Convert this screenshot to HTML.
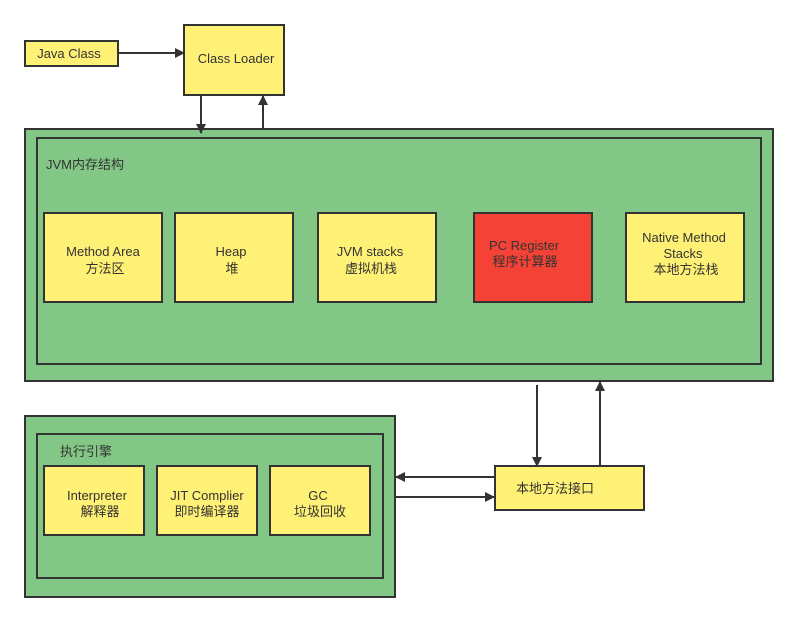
<!DOCTYPE html>
<html><head><meta charset="utf-8"><style>
html,body{margin:0;padding:0;background:#fff}
svg text{font-family:"Liberation Sans","Noto Sans CJK SC",sans-serif;font-size:13px;fill:#333;text-anchor:middle}
</style></head><body>
<svg width="798" height="621" viewBox="0 0 798 621" xmlns="http://www.w3.org/2000/svg">
<defs><marker id="a" markerWidth="10" markerHeight="10" refX="9" refY="5" orient="auto" markerUnits="userSpaceOnUse"><path d="M0,0 L10,5 L0,10 z" fill="#333"/></marker></defs>
<g stroke="#333" stroke-width="2">
<rect x="25" y="41" width="93" height="25" fill="#fff176"/>
<rect x="184" y="25" width="100" height="70" fill="#fff176"/>
<rect x="25" y="129" width="748" height="252" fill="#82c785"/>
<rect x="37" y="138" width="724" height="226" fill="#82c785"/>
<rect x="44" y="213" width="118" height="89" fill="#fff176"/>
<rect x="175" y="213" width="118" height="89" fill="#fff176"/>
<rect x="318" y="213" width="118" height="89" fill="#fff176"/>
<rect x="474" y="213" width="118" height="89" fill="#f44336"/>
<rect x="626" y="213" width="118" height="89" fill="#fff176"/>
<rect x="25" y="416" width="370" height="181" fill="#82c785"/>
<rect x="37" y="434" width="346" height="144" fill="#82c785"/>
<rect x="44" y="466" width="100" height="69" fill="#fff176"/>
<rect x="157" y="466" width="100" height="69" fill="#fff176"/>
<rect x="270" y="466" width="100" height="69" fill="#fff176"/>
<rect x="495" y="466" width="149" height="44" fill="#fff176"/>
<line x1="118" y1="53" x2="184" y2="53" marker-end="url(#a)"/>
<line x1="201" y1="95" x2="201" y2="133" marker-end="url(#a)"/>
<line x1="263" y1="129" x2="263" y2="96" marker-end="url(#a)"/>
<line x1="537" y1="385" x2="537" y2="466" marker-end="url(#a)"/>
<line x1="600" y1="466" x2="600" y2="382" marker-end="url(#a)"/>
<line x1="495" y1="477" x2="396" y2="477" marker-end="url(#a)"/>
<line x1="395" y1="497" x2="494" y2="497" marker-end="url(#a)"/>
</g>
<text x="69" y="58">Java Class</text>
<text x="236" y="63">Class Loader</text>
<text x="46" y="169" style="text-anchor:start">JVM内存结构</text>
<text x="103" y="256">Method Area</text><text x="105" y="273">方法区</text>
<text x="231" y="256">Heap</text><text x="232" y="273">堆</text>
<text x="370" y="256">JVM stacks</text><text x="371" y="273">虚拟机栈</text>
<text x="524" y="250">PC Register</text><text x="525" y="266">程序计算器</text>
<text x="684" y="242">Native Method</text><text x="683" y="258">Stacks</text><text x="686" y="274">本地方法栈</text>
<text x="60" y="456" style="text-anchor:start">执行引擎</text>
<text x="97" y="500">Interpreter</text><text x="100" y="516">解释器</text>
<text x="207" y="500">JIT Complier</text><text x="207" y="516">即时编译器</text>
<text x="318" y="500">GC</text><text x="320" y="516">垃圾回收</text>
<text x="555" y="493">本地方法接口</text>
</svg>
</body></html>
